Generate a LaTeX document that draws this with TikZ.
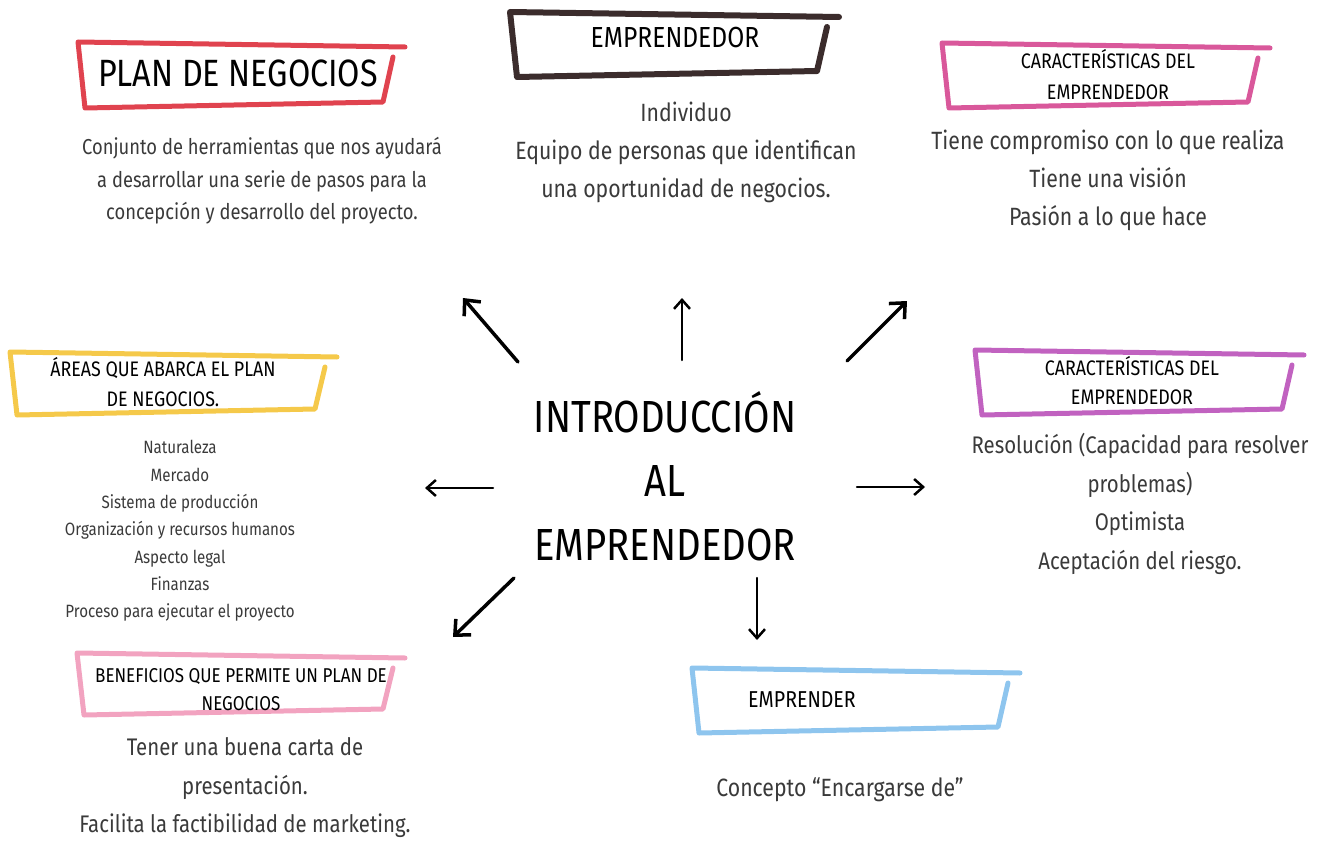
\documentclass[tikz,border=0pt]{standalone}
\usepackage{fontspec}
\setmainfont{Fira Sans}[FakeStretch=0.85]
\usetikzlibrary{arrows.meta}
\definecolor{rojo}{HTML}{E0434F}
\definecolor{cafe}{HTML}{3B2C2C}
\definecolor{rosa}{HTML}{D9589B}
\definecolor{amarillo}{HTML}{F5C94A}
\definecolor{morado}{HTML}{C162C0}
\definecolor{rosaclaro}{HTML}{F2A3C0}
\definecolor{celeste}{HTML}{8EC5EE}
\definecolor{tinta}{HTML}{3A3A3A}
\tikzset{
	marco/.style={line width=5pt, line join=round, line cap=round},
	titulo/.style={font=\fontsize{21}{30}\selectfont, align=center},
	texto/.style={font=\fontsize{25}{38}\selectfont, align=center, text=tinta},
	lista/.style={font=\fontsize{17.8}{27.3}\selectfont, align=center, text=tinta},
	flecha/.style={-{Straight Barb[length=12pt,width=22pt,line width=3.5pt]}, line width=3.5pt, line cap=round},
	flechita/.style={-{Straight Barb[length=9pt,width=16pt,line width=2.5pt]}, line width=2.5pt, line cap=round}
}
% marco a mano: color, x0, y0, x1, y1
\newcommand{\marco}[5]{\draw[marco, #1] (#4,#3+15) -- (#4-10,#5-6) -- (#2+7,#5) -- (#2,#3) -- (#4+12,#3+5);}
\begin{document}
\begin{tikzpicture}[x=1pt, y=-1pt, line join=round, line cap=round]
	\useasboundingbox (0,0) rectangle (1320,848);
	%%%%%%%%%%%%%%%%%%%%%%%%%%%%%%%%%
	\coordinate (noA) at (518,362);
	\coordinate (noB) at (463,298);
	\coordinate (nA) at (682,360);
	\coordinate (nB) at (682,298);
	\coordinate (neA) at (847,361);
	\coordinate (neB) at (907,301);
	\coordinate (oA) at (493,488);
	\coordinate (oB) at (425,488);
	\coordinate (eA) at (857,487);
	\coordinate (eB) at (925,487);
	\coordinate (soA) at (514,578);
	\coordinate (soB) at (453,637);
	\coordinate (sA) at (757,578);
	\coordinate (sB) at (757,640);
	%%%%%%%%%%%%%%%%%%%%%%%%%%%%%%%%%
	\marco{rojo}{78}{42}{393}{108}
	\marco{cafe, line width=6pt}{510}{12}{827}{77}
	\marco{rosa}{942}{43}{1258}{108}
	\marco{amarillo}{10}{352}{325}{415}
	\marco{morado}{975}{350}{1292}{415}
	\marco{rosaclaro}{77}{653}{393}{715}
	\marco{celeste}{692}{668}{1008}{733}
	%%%%%%%%%%%%%%%%%%%%%%%%%%%%%%%%%
	\node[font=\fontsize{45}{64}\selectfont, align=center] (centro) at (665,476) {INTRODUCCIÓN\\AL\\EMPRENDEDOR};
	\node[font=\fontsize{38}{40}\selectfont] (plan) at (238,73) {PLAN DE NEGOCIOS};
	\node[texto, font=\fontsize{21.6}{32.5}\selectfont] (plantxt) at (262,181) {Conjunto de herramientas que nos ayudará\\a desarrollar una serie de pasos para la\\concepción y desarrollo del proyecto.};
	\node[font=\fontsize{29}{30}\selectfont] (empr) at (675,38) {EMPRENDEDOR};
	\node[texto] (emprtxt) at (686,152) {Individuo\\Equipo de personas que identifican\\una oportunidad de negocios.};
	\node[titulo, font=\fontsize{21}{31}\selectfont] (carac) at (1108,75) {CARACTERÍSTICAS DEL\\EMPRENDEDOR};
	\node[texto] (caractxt) at (1108,180) {Tiene compromiso con lo que realiza\\Tiene una visión\\Pasión a lo que hace};
	\node[titulo] (areas) at (163,382) {ÁREAS QUE ABARCA EL PLAN\\DE NEGOCIOS.};
	\node[lista] (areastxt) at (180,531) {Naturaleza\\Mercado\\Sistema de producción\\Organización y recursos humanos\\Aspecto legal\\Finanzas\\Proceso para ejecutar el proyecto};
	\node[titulo, font=\fontsize{21}{29}\selectfont] (carac2) at (1132,381) {CARACTERÍSTICAS DEL\\EMPRENDEDOR};
	\node[texto, font=\fontsize{24}{38.7}\selectfont] (carac2txt) at (1140,504) {Resolución (Capacidad para resolver\\problemas)\\Optimista\\Aceptación del riesgo.};
	\node[titulo, font=\fontsize{20}{28}\selectfont] (benef) at (241,690) {BENEFICIOS QUE PERMITE UN PLAN DE\\NEGOCIOS};
	\node[texto, font=\fontsize{24}{38.5}\selectfont] (beneftxt) at (245,788) {Tener una buena carta de\\presentación.\\Facilita la factibilidad de marketing.};
	\node[font=\fontsize{23}{22}\selectfont] (empre) at (802,700) {EMPRENDER};
	\node[texto] (empretxt) at (840,790) {Concepto “Encargarse de”};
	%%%%%%%%%%%%%%%%%%%%%%%%%%%%%%%%%
	\draw[flecha] (noA) -- (noB);
	\draw[flechita] (nA) -- (nB);
	\draw[flecha] (neA) -- (neB);
	\draw[flechita] (oA) -- (oB);
	\draw[flechita] (eA) -- (eB);
	\draw[flecha] (soA) -- (soB);
	\draw[flechita] (sA) -- (sB);
	%%%%%%%%%%%%%%%%%%%%%%%%%%%%%%%%%
\end{tikzpicture}
\end{document}
